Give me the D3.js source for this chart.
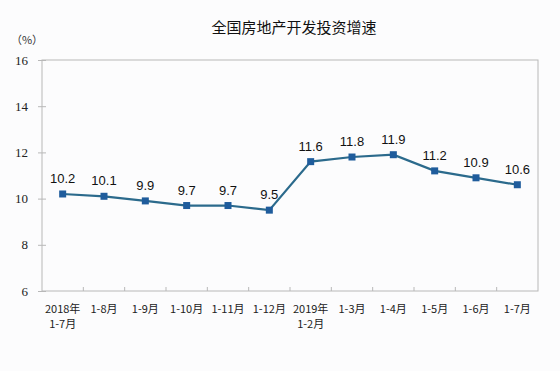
<!DOCTYPE html>
<html>
<head>
<meta charset="utf-8">
<script src="https://cdn.jsdelivr.net/npm/d3@7"></script>
<style>
  body { margin: 0; background: #fcfcfd; }
  svg { display: block; }
</style>
</head>
<body>
<svg id="chart" width="560" height="371"></svg>
<script>
const width = 560, height = 371;

const categories = ["2018年|1-7月", "1-8月", "1-9月", "1-10月", "1-11月", "1-12月",
  "2019年|1-2月", "1-3月", "1-4月", "1-5月", "1-6月", "1-7月"];
const values = [10.2, 10.1, 9.9, 9.7, 9.7, 9.5, 11.6, 11.8, 11.9, 11.2, 10.9, 10.6];
const yTicks = [6, 8, 10, 12, 14, 16];
const title = "全国房地产开发投资增速";

const margin = { top: 60, right: 22, bottom: 80, left: 42 };
const innerW = width - margin.left - margin.right;
const innerH = height - margin.top - margin.bottom;

const svg = d3.select("#chart");
svg.append("rect").attr("width", width).attr("height", height).attr("fill", "#fcfcfd");

const g = svg.append("g").attr("transform", `translate(${margin.left},${margin.top})`);

const x = d3.scaleBand().domain(categories).range([0, innerW]);
const y = d3.scaleLinear().domain([6, 16]).range([innerH, 0]);

// title
svg.append("text")
  .attr("x", 294).attr("y", 33)
  .attr("text-anchor", "middle")
  .attr("font-family", "'Noto Sans CJK SC', sans-serif")
  .attr("font-size", 15)
  .attr("fill", "#111")
  .text(title);

// unit
svg.append("text")
  .attr("x", 27).attr("y", 44)
  .attr("text-anchor", "middle")
  .attr("font-family", "'Noto Sans CJK SC', sans-serif")
  .attr("font-size", 11)
  .attr("fill", "#333")
  .text("（%）");

// frame
g.append("rect")
  .attr("width", innerW).attr("height", innerH)
  .attr("fill", "none").attr("stroke", "#b8b8b8").attr("stroke-width", 1);

// y axis
const yAxis = g.append("g")
  .call(d3.axisLeft(y).tickValues(yTicks).tickSize(4).tickPadding(10));
yAxis.select(".domain").remove();
yAxis.selectAll(".tick line").attr("stroke", "#b8b8b8").attr("x2", 4).attr("x1", -4);
yAxis.selectAll(".tick text")
  .attr("font-family", "'Liberation Serif', serif")
  .attr("font-size", 13)
  .attr("fill", "#222");

// x axis: ticks at band boundaries
const xAxis = g.append("g").attr("transform", `translate(0,${innerH})`);
xAxis.selectAll("line.bt")
  .data(categories.slice(1))
  .enter().append("line")
  .attr("x1", d => x(d)).attr("x2", d => x(d))
  .attr("y1", 0).attr("y2", -4)
  .attr("stroke", "#b8b8b8");

// category labels, second line as its own text
categories.forEach(c => {
  c.split("|").forEach((p, i) => {
    xAxis.append("text")
      .attr("x", x(c) + x.bandwidth() / 2)
      .attr("y", 22 + i * 15)
      .attr("text-anchor", "middle")
      .attr("font-family", "'Noto Sans CJK SC', sans-serif")
      .attr("font-size", 11)
      .attr("fill", "#222")
      .text(p);
  });
});

const cx = (d, i) => x(categories[i]) + x.bandwidth() / 2;

// line
const line = d3.line()
  .x((d, i) => cx(d, i))
  .y(d => y(d));

g.append("path")
  .datum(values)
  .attr("d", line)
  .attr("fill", "none")
  .attr("stroke", "#2b6a8c")
  .attr("stroke-width", 2.2);

// markers
g.selectAll("rect.pt")
  .data(values)
  .enter().append("rect")
  .attr("class", "pt")
  .attr("x", (d, i) => cx(d, i) - 3.5)
  .attr("y", d => y(d) - 3.5)
  .attr("width", 7).attr("height", 7)
  .attr("fill", "#1f5c9c");

// value labels
g.selectAll("text.val")
  .data(values)
  .enter().append("text")
  .attr("class", "val")
  .attr("x", (d, i) => cx(d, i))
  .attr("y", d => y(d) - 11)
  .attr("text-anchor", "middle")
  .attr("font-family", "'Liberation Sans', Arial, sans-serif")
  .attr("font-size", 13)
  .attr("fill", "#111")
  .text(d => d.toFixed(1));
</script>
</body>
</html>
